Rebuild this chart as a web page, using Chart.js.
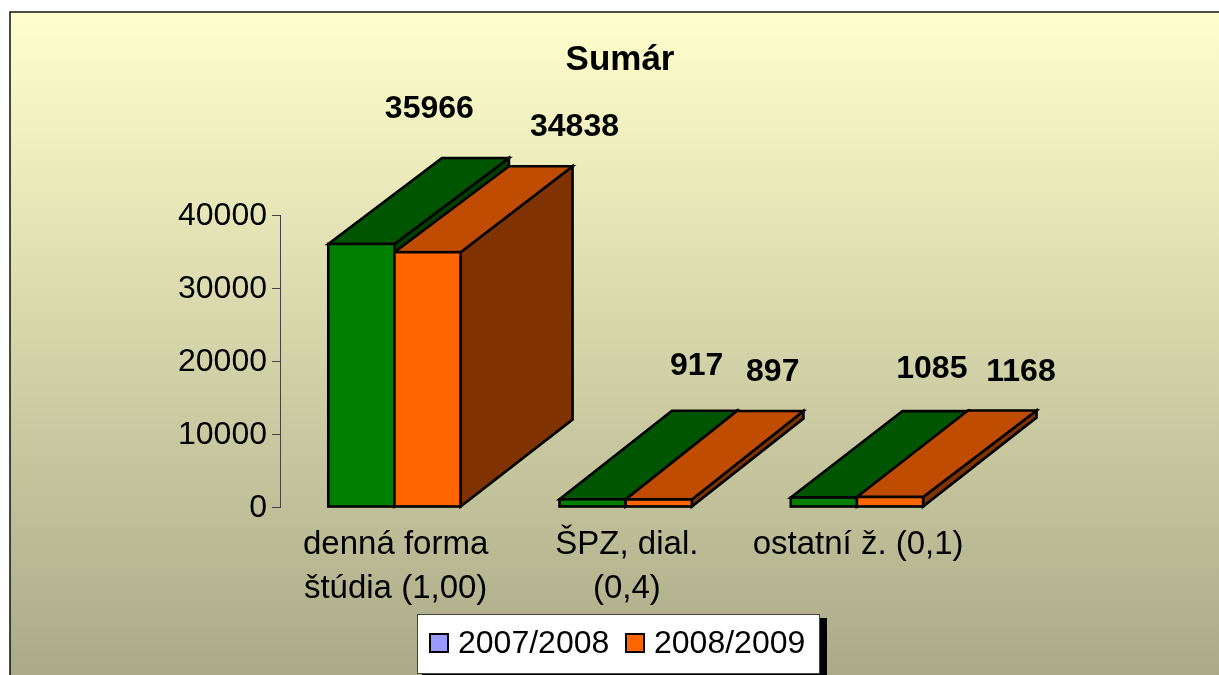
<!DOCTYPE html>
<html>
<head>
<meta charset="utf-8">
<style>html,body{margin:0;padding:0;background:#fff;overflow:hidden}canvas{display:block}</style>
<script src="https://cdn.jsdelivr.net/npm/chart.js@4/dist/chart.umd.min.js"></script>
</head>
<body>
<canvas id="c" width="1219" height="675"></canvas>
<script>
const chartTitle = 'Sumár';
const categories = [['denná forma', 'štúdia (1,00)'], ['ŠPZ, dial.', '(0,4)'], ['ostatní ž. (0,1)']];
const seriesNames = ['2007/2008', '2008/2009'];
const values2007 = [35966, 917, 1085];
const values2008 = [34838, 897, 1168];
const yTicks = [0, 10000, 20000, 30000, 40000];

const FONT = '"Liberation Sans", Arial, sans-serif';
const faces = [
  { front: '#008000', top: '#005500', side: '#004000' },
  { front: '#FF6600', top: '#BF4C00', side: '#803300' }
];
const legendSwatches = ['#9999FF', '#FF6600'];
const BAR_SHIFT = -1.2;
const STROKE = 2.6;
// projection of each category's block, as the reference's 3D renderer rounded it
const projection = [
  { dx: [113.7, 114.5, 112], topDy: -86, baseDy: -87, lift: 0.5 },
  { dx: [112.4, 111.3, 111.6], topDy: -88.5, baseDy: -88, lift: 1 },
  { dx: [111.7, 111, 113.5], topDy: -86.5, baseDy: -89, lift: 1.5 }
];
// hand placement of each value label relative to its bar's top centre, as in the reference
const labelNudges = [
  [[68, -135.5], [104, -134.5], [108, -129.5]],
  [[147, -125.5], [114, -128.5], [131, -126.5]]
];

function poly(ctx, pts, fill) {
  ctx.beginPath();
  pts.forEach((p, i) => i ? ctx.lineTo(p[0], p[1]) : ctx.moveTo(p[0], p[1]));
  ctx.closePath();
  ctx.fillStyle = fill;
  ctx.fill();
  ctx.stroke();
}
function barBox(chart, d, i) {
  const p = chart.getDatasetMeta(d).data[i].getProps(['x', 'y', 'base', 'width'], true);
  return { x: p.x, l: p.x - p.width / 2, r: p.x + p.width / 2, top: p.y - projection[i].lift, base: p.base };
}

const scene = {
  id: 'scene',
  afterLayout(chart) {
    // centre the title over the whole picture's plot frame
    chart.titleBlock.left = 21;
    chart.titleBlock.right = chart.width;
  },
  beforeDraw(chart) {
    const { ctx, width, height } = chart;
    ctx.save();
    ctx.fillStyle = '#fff';
    ctx.fillRect(0, 0, width, height);
    const g = ctx.createLinearGradient(0, 13, 0, height);
    g.addColorStop(0, '#FFFFCC');
    g.addColorStop(1, '#AAAA88');
    ctx.fillStyle = g;
    ctx.fillRect(10, 12, width - 10, height - 12);
    ctx.strokeStyle = '#111';
    ctx.lineWidth = 1.5;
    ctx.beginPath();
    ctx.moveTo(10, height);
    ctx.lineTo(10, 12);
    ctx.lineTo(width, 12);
    ctx.stroke();
    ctx.restore();
  },
  beforeDatasetsDraw(chart) {
    const { ctx } = chart;
    ctx.save();
    ctx.translate(BAR_SHIFT, 0);
    ctx.strokeStyle = '#000';
    ctx.lineWidth = STROKE;
    ctx.lineJoin = 'miter';
    chart.data.labels.forEach((_, i) => {
      const pr = projection[i];
      chart.data.datasets.forEach((ds, d) => {
        const b = barBox(chart, d, i);
        const dl = pr.dx[d], dr = pr.dx[d + 1];
        poly(ctx, [[b.r, b.top], [b.r + dr, b.top + pr.topDy], [b.r + dr, b.base + pr.baseDy], [b.r, b.base]], faces[d].side);
        poly(ctx, [[b.l, b.top], [b.l + dl, b.top + pr.topDy], [b.r + dr, b.top + pr.topDy], [b.r, b.top]], faces[d].top);
      });
    });
    ctx.restore();
    // the library's own bars (front faces) follow with the same shift
    ctx.save();
    ctx.translate(BAR_SHIFT, 0);
  },
  afterDatasetsDraw(chart) {
    const { ctx } = chart;
    ctx.strokeStyle = '#000';
    ctx.lineWidth = STROKE;
    chart.data.labels.forEach((_, i) => {
      chart.data.datasets.forEach((ds, d) => {
        const b = barBox(chart, d, i);
        ctx.fillStyle = faces[d].front;
        ctx.fillRect(b.l, b.top, b.r - b.l, b.base - b.top);
        ctx.strokeRect(b.l, b.top, b.r - b.l, b.base - b.top);
      });
    });
    ctx.restore();
    ctx.save();
    ctx.fillStyle = '#000';
    ctx.font = 'bold 32px ' + FONT;
    ctx.textAlign = 'center';
    ctx.textBaseline = 'middle';
    chart.data.datasets.forEach((ds, d) => {
      chart.getDatasetMeta(d).data.forEach((b, i) => {
        const p = b.getProps(['x', 'y'], true);
        ctx.fillText(String(ds.data[i]), p.x + BAR_SHIFT + labelNudges[d][i][0], p.y + labelNudges[d][i][1]);
      });
    });
    ctx.restore();
  },
  afterDraw(chart) {
    const { ctx } = chart;
    ctx.save();
    ctx.fillStyle = '#000';
    ctx.fillRect(422, 618, 405, 57);
    ctx.fillStyle = '#fff';
    ctx.fillRect(417, 614, 403, 60);
    ctx.strokeStyle = '#444';
    ctx.lineWidth = 1;
    ctx.strokeRect(417.5, 614.5, 402, 59);
    const swatchX = [430, 626], textX = [458, 654];
    ctx.font = '32px ' + FONT;
    ctx.textBaseline = 'middle';
    ctx.textAlign = 'left';
    seriesNames.forEach((name, i) => {
      ctx.fillStyle = legendSwatches[i];
      ctx.strokeStyle = '#000';
      ctx.lineWidth = 2;
      ctx.fillRect(swatchX[i], 634, 18, 18);
      ctx.strokeRect(swatchX[i], 634, 18, 18);
      ctx.fillStyle = '#000';
      ctx.fillText(name, textX[i], 644.5);
    });
    ctx.restore();
  }
};

new Chart(document.getElementById('c'), {
  type: 'bar',
  data: {
    labels: categories,
    datasets: [
      { label: seriesNames[0], data: values2007, backgroundColor: faces[0].front },
      { label: seriesNames[1], data: values2008, backgroundColor: faces[1].front }
    ]
  },
  options: {
    responsive: false,
    animation: false,
    events: [],
    layout: { autoPadding: false, padding: { left: 21, right: 245.25, top: 0, bottom: 0 } },
    datasets: {
      bar: { categoryPercentage: 0.572, barPercentage: 1, borderWidth: 0 }
    },
    scales: {
      x: {
        grid: { display: false, drawTicks: false },
        border: { display: false },
        afterFit(s) { s.height = 168; },
        ticks: {
          color: '#000',
          font: { family: FONT, size: 33, lineHeight: 1.333 },
          padding: 16,
          maxRotation: 0,
          minRotation: 0,
          autoSkip: false
        }
      },
      y: {
        min: 0,
        max: 40000,
        afterFit(s) {
          s.width = 259;
          if (!s._nudged) {
            // labels sit a little lower against their tick marks in the reference
            const compute = s._computeLabelItems.bind(s);
            s._computeLabelItems = a => {
              const items = compute(a);
              items.forEach(it => { it.options.translation[1] += 1.5; });
              return items;
            };
            s._nudged = true;
          }
        },
        afterBuildTicks(s) { s.ticks = yTicks.map(v => ({ value: v })); },
        grid: { drawOnChartArea: false, drawTicks: true, tickLength: 8, tickColor: '#444', tickWidth: 1 },
        border: { display: true, color: '#444', width: 1 },
        ticks: {
          color: '#000',
          font: { family: FONT, size: 32 },
          padding: 5,
          callback: v => String(v)
        }
      }
    },
    plugins: {
      legend: { display: false },
      tooltip: { enabled: false },
      title: {
        display: true,
        text: chartTitle,
        color: '#000',
        font: { family: FONT, size: 35, weight: 'bold', lineHeight: 1.2 },
        padding: { top: 39, bottom: 134 }
      }
    }
  },
  plugins: [scene]
});
</script>
</body>
</html>
